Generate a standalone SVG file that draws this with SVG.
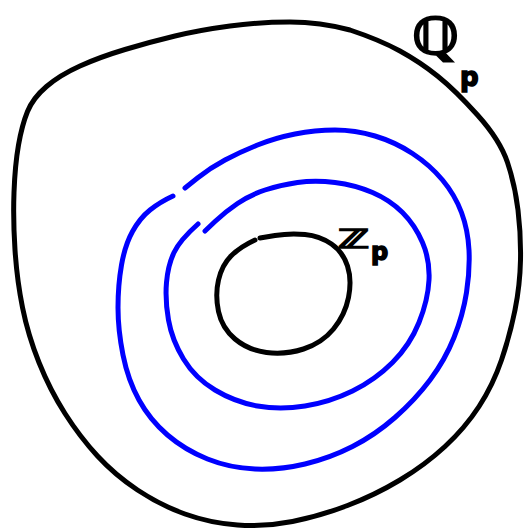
<svg xmlns="http://www.w3.org/2000/svg" width="525" height="531" viewBox="0 0 525 531">
<style>
.k{fill:none;stroke:#000;stroke-width:5;stroke-linecap:round;stroke-linejoin:round}
.b{fill:none;stroke:#0000ff;stroke-width:5;stroke-linecap:round;stroke-linejoin:round}
.t{font-family:"DejaVu Sans",sans-serif;font-weight:bold;fill:#000;stroke:#000;stroke-width:1.5}
</style>
<rect width="525" height="531" fill="#fff"/>
<g id="Qp">
<path class="k" d="M 46.5,86.5 Q 60,75 80,66 Q 100,57 125,49.5 Q 150,42 175,36 Q 200,30 230,26 Q 260,22 290,22 Q 320,22 350,30 Q 380,40 400,51 Q 420,62 437.5,76 Q 455,90 477.5,115 Q 500,140 507.5,162.5 Q 515,185 518,210 Q 521,235 520.5,260 Q 520,285 515,310 Q 510,335 501.5,360 Q 493,385 479,406.5 Q 465,428 445,446.5 Q 425,465 400,480 Q 375,495 347.5,505.5 Q 320,516 292.5,521.5 Q 265,527 237.5,525 Q 210,523 185,514 Q 160,505 137.5,490 Q 115,475 97.5,456 Q 80,437 65,413.5 Q 50,390 39,362.5 Q 28,335 22.5,307.5 Q 17,280 15,250 Q 13,220 14,192.5 Q 15,165 18.5,145 Q 22,125 27.5,111.5 Q 33,98 46.5,86.5 Z"/>
<text class="t" x="412" y="54" font-size="46" transform="translate(412 54) scale(1.2 1.1) translate(-412 -54)">ℚ</text>
<text class="t" x="460" y="86" font-size="26">p</text>
</g>
<g id="ring1">
<path class="b" d="M 185,188 L 197.5,178 Q 210,168 225,160 Q 240,152 257.5,145 Q 275,138 295,134 Q 315,130 335,130 Q 355,130 375,136 Q 395,142 412.5,153.5 Q 430,165 442.5,180 Q 455,195 461.5,212.5 Q 468,230 469,250 Q 470,270 466.5,292.5 Q 463,315 454,337.5 Q 445,360 430,380 Q 415,400 395,417.5 Q 375,435 352.5,446.5 Q 330,458 305,464 Q 280,470 255,469 Q 230,468 207.5,459 Q 185,450 167.5,435 Q 150,420 139,400 Q 128,380 123,355 Q 118,330 118,307.5 Q 118,285 121.5,265 Q 125,245 132.5,231.5 Q 140,218 150,210 Q 160,202 173,196"/>
</g>
<g id="ring2">
<path class="b" d="M 205,231 L 215,221.5 Q 225,212 237.5,203.5 Q 250,195 265,190 Q 280,185 297.5,182.5 Q 315,180 335,182.5 Q 355,185 372.5,192.5 Q 390,200 402.5,212.5 Q 415,225 422.5,242.5 Q 430,260 429,280 Q 428,300 419,322.5 Q 410,345 392.5,362.5 Q 375,380 352.5,391 Q 330,402 305,406 Q 280,410 257.5,406 Q 235,402 215,390 Q 195,378 183.5,359 Q 172,340 168.5,320 Q 165,300 166.5,282.5 Q 168,265 174,252.5 Q 180,240 198,224"/>
</g>
<g id="Zp">
<path class="k" d="M 260,238 L 275,235.5 Q 290,233 305,234.5 Q 320,236 331.5,244 Q 343,252 347.5,266 Q 352,280 348.5,297.5 Q 345,315 333.5,329 Q 322,343 303.5,349 Q 285,355 266.5,352.5 Q 248,350 235,339 Q 222,328 218.5,311.5 Q 215,295 218.5,280 Q 222,265 231,256 Q 240,247 255,240"/>
<text class="t" x="338" y="248" font-size="26" transform="translate(338 248) scale(1.6 1) translate(-338 -248)">ℤ</text>
<text class="t" x="371" y="260" font-size="24">p</text>
</g>
</svg>
